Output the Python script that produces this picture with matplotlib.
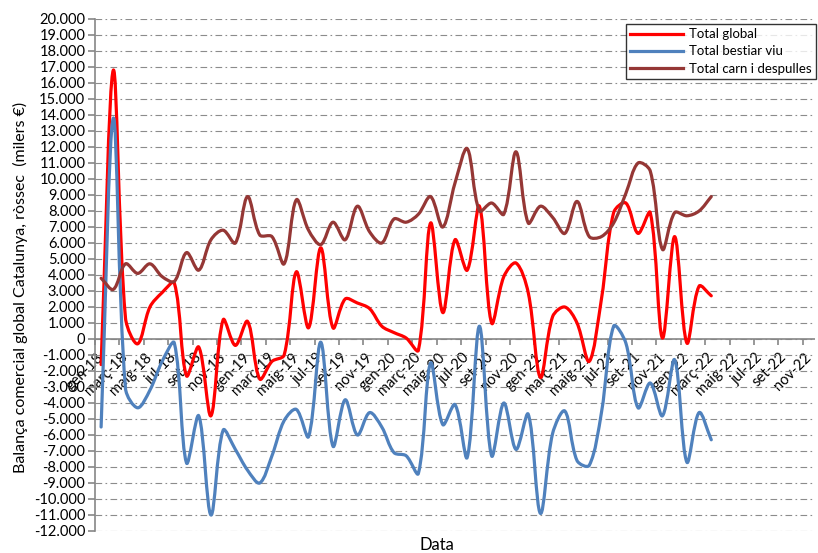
import numpy as np
import matplotlib
matplotlib.use("Agg")
import matplotlib.pyplot as plt
import matplotlib.transforms as mtransforms
from matplotlib.path import Path
from matplotlib.patches import PathPatch
from matplotlib.lines import Line2D
from matplotlib.ticker import FuncFormatter, MultipleLocator

plt.rcParams['font.family'] = ['Lato', 'DejaVu Sans']

# mesos de l'eix (gen-18 ... nov-22), dades fins a març-22
mesos = ["gen", "febr", "març", "abr", "maig", "juny", "jul", "ag", "set", "oct", "nov", "des"]
etiquetes = [f"{mesos[m % 12]}-{18 + m // 12}" for m in range(59)]

# milers d'euros (llegits del gràfic, en milers)
total_global = [-1.6, 16.8, 1.3, -0.3, 2.0, 2.9, 3.5, -2.3, -0.5, -4.8,
                1.2, -0.4, 1.1, -2.5, -1.4, -1.0, 4.2, 0.7, 5.7,
                0.7, 2.5, 2.25, 1.9, 0.8, 0.4, 0.06, -0.7, 7.25, 1.65,
                6.2, 4.3, 8.3, 1.0, 3.9, 4.75, 2.9, -2.4, 1.4,
                2.0, 1.0, -1.4, 2.5, 7.9, 8.5, 6.6, 7.9, 0.06, 6.4,
                -0.25, 3.3, 2.7]
total_bestiar = [-5.5, 13.8, -3.1, -4.3, -3.2, -1.4, -0.25, -7.75, -4.8, -11.0,
                 -5.7, -6.9, -8.2, -9.0, -7.3, -5.1, -4.4, -6.1, -0.2,
                 -6.7, -3.8, -6.0, -4.6, -5.5, -7.1, -7.3, -8.4, -1.5, -5.35,
                 -4.1, -7.4, 0.8, -7.3, -4.0, -6.9, -4.7, -10.9, -5.9,
                 -4.5, -7.6, -7.9, -4.6, 0.8, -0.25, -4.3, -2.75, -4.8, -1.3,
                 -7.7, -4.6, -6.3]
total_carn = [3.8, 3.1, 4.7, 4.1, 4.7, 3.9, 3.6, 5.4, 4.3, 6.2,
              6.8, 6.0, 8.9, 6.5, 6.4, 4.7, 8.7, 6.8, 5.9,
              7.3, 6.2, 8.3, 6.7, 6.0, 7.5, 7.3, 7.8, 8.9, 7.0,
              9.75, 11.9, 8.0, 8.5, 7.8, 11.7, 7.25, 8.3, 7.6,
              6.6, 8.6, 6.4, 6.4, 7.25, 9.1, 11.0, 10.5, 5.6, 7.9,
              7.7, 8.0, 8.9]

series = [("Total global", total_global, "#FF0000"),
          ("Total bestiar viu", total_bestiar, "#4F81BD"),
          ("Total carn i despulles", total_carn, "#953735")]


def smooth_path(x, y, sx=12.2, sy=0.016):
    # corba suavitzada tipus Excel: Bezier amb tangents repartides segons
    # la llargada (en píxels) dels trams veïns
    p = np.column_stack([x, y]).astype(float)
    n = len(p)
    scale = np.array([sx, sy])
    verts = [p[0]]
    codes = [Path.MOVETO]
    outs, ins = [], []
    for i in range(n):
        a = p[max(i - 1, 0)]
        b = p[min(i + 1, n - 1)]
        t = b - a
        dp = np.linalg.norm((p[i] - a) * scale)
        dn = np.linalg.norm((b - p[i]) * scale)
        tot = dp + dn if dp + dn > 0 else 1.0
        outs.append(p[i] + t * dn / tot / 3.0)
        ins.append(p[i] - t * dp / tot / 3.0)
    for i in range(n - 1):
        verts += [outs[i], ins[i + 1], p[i + 1]]
        codes += [Path.CURVE4] * 3
    return Path(verts, codes)


fig = plt.figure(figsize=(8.18, 5.53), dpi=100)
ax = fig.add_axes([95 / 818, 22 / 553, 720 / 818, 512 / 553])

handles = []
for nom, vals, col in series:
    y = np.array(vals) * 1000
    x = np.arange(len(y))
    patch = PathPatch(smooth_path(x, y), fill=False, edgecolor=col, lw=2.3,
                      capstyle='round', joinstyle='round', zorder=3)
    ax.add_patch(patch)
    handles.append(Line2D([0], [0], color=col, lw=2.3, label=nom))

ax.set_xlim(-0.5, 58.5)
ax.set_ylim(-12000, 20000)

ax.yaxis.set_major_locator(MultipleLocator(1000))
ax.yaxis.set_major_formatter(FuncFormatter(lambda v, p: f"{int(round(v)):,}".replace(",", ".")))
ax.grid(axis='y', color='#8c8c8c', lw=0.8, linestyle=(0, (6, 3, 1.5, 3)))
ax.set_axisbelow(True)

# eix horitzontal al zero
for s in ['top', 'right', 'bottom']:
    ax.spines[s].set_visible(False)
ax.spines['left'].set_color('#868686')
ax.spines['left'].set_linewidth(1.2)
ax.axhline(0, color='#868686', lw=1.2, zorder=2)

ax.set_xticks(np.arange(0, 59, 2))
ax.set_xticklabels(etiquetes[::2], rotation=45, ha='right', va='top')
ax.set_xticks(np.arange(-0.5, 59, 2), minor=True)
ax.tick_params(axis='x', which='major', length=0, labelsize=10.5, pad=0)
ax.tick_params(axis='x', which='minor', length=4, color='#868686', width=1.2)
ax.tick_params(axis='y', length=5, color='#868686', width=1.2, labelsize=10.5, pad=2)

# etiquetes de mes sota la línia del zero
offset = mtransforms.ScaledTranslation(5 / 100, 0, fig.dpi_scale_trans)
for lab in ax.get_xticklabels():
    lab.set_transform(mtransforms.blended_transform_factory(ax.transData, ax.transData) + offset)
    lab.set_y(-700)
for tick in ax.xaxis.get_minor_ticks():
    tick.tick1line.set_transform(mtransforms.blended_transform_factory(ax.transData, ax.transData))
    tick.tick1line.set_ydata([0])

ax.set_ylabel("Balança comercial global Catalunya, ròssec  (milers €)", fontsize=11.5)
ax.yaxis.set_label_coords(-0.093, 0.475)
fig.text(437 / 818, 1 - 545 / 553, "Data", fontsize=12, ha='center', va='center')

leg = ax.legend(handles=handles, loc='upper right', bbox_to_anchor=(1.005, 0.995),
                fontsize=9.5, frameon=True, fancybox=False, edgecolor='black',
                handlelength=4.0, borderpad=0.3, labelspacing=0.4, handletextpad=0.5,
                borderaxespad=0.2)
leg.get_frame().set_linewidth(1.0)

fig.savefig("out.png", dpi=100)
